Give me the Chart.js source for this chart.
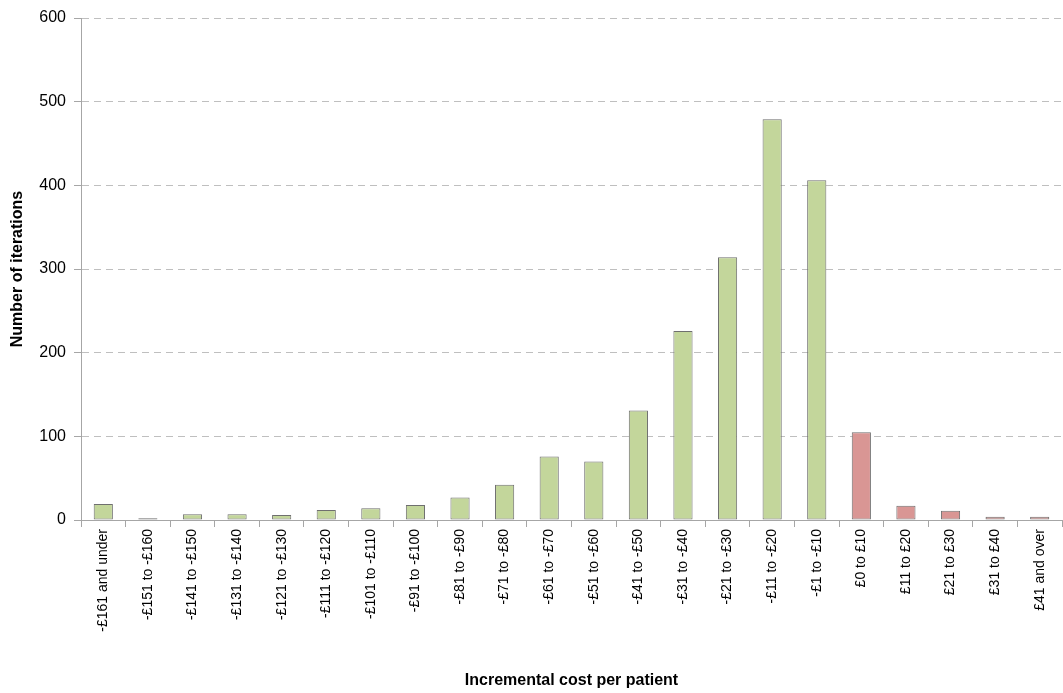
<!DOCTYPE html>
<html>
<head>
<meta charset="utf-8">
<script src="https://cdn.jsdelivr.net/npm/chart.js"></script>
<style>
  html, body { margin: 0; padding: 0; background: #fff; }
  #wrap { width: 1063px; height: 693px; }
</style>
</head>
<body>
<div id="wrap"><canvas id="costChart" width="1063" height="693"></canvas></div>
<script>
// categories along the x axis
const costBands = [
  '-£161 and under', '-£151 to -£160', '-£141 to -£150', '-£131 to -£140',
  '-£121 to -£130', '-£111 to -£120', '-£101 to -£110', '-£91 to -£100',
  '-£81 to -£90', '-£71 to -£80', '-£61 to -£70', '-£51 to -£60',
  '-£41 to -£50', '-£31 to -£40', '-£21 to -£30', '-£11 to -£20',
  '-£1 to -£10', '£0 to £10', '£11 to £20', '£21 to £30', '£31 to £40',
  '£41 and over'
];

// number of iterations per band
const iterations = [19, 2, 7, 7, 6, 12, 14, 18, 27, 42, 76, 70, 131, 226, 314, 479, 406, 105, 17, 11, 4, 4];

// y axis ticks
const yTicks = [0, 100, 200, 300, 400, 500, 600];

const savingColour = '#C3D69B';
const costColour = '#D99694';

// green for savings, red for extra cost
const barColours = costBands.map(b => b.startsWith('-') ? savingColour : costColour);

let costChart;

function initializeChart() {
    const ctx = document.getElementById('costChart').getContext('2d');

    costChart = new Chart(ctx, {
        type: 'bar',
        data: {
            labels: costBands,
            datasets: [{
                label: 'Iterations',
                data: iterations,
                backgroundColor: barColours,
                borderColor: '#6F6F6F',
                borderWidth: 1,
                borderSkipped: false,
                barPercentage: 0.43,
                categoryPercentage: 1.0
            }]
        },
        options: {
            responsive: false,
            animation: false,
            devicePixelRatio: 1,
            layout: { padding: { top: 18, right: 1, left: 0, bottom: 0 } },
            plugins: {
                legend: { display: false },
                tooltip: { enabled: false }
            },
            scales: {
                x: {
                    offset: true,
                    grid: {
                        offset: true,
                        drawOnChartArea: false,
                        drawTicks: true,
                        tickLength: 7,
                        color: '#A6A6A6'
                    },
                    border: { color: '#A6A6A6' },
                    ticks: {
                        minRotation: 90,
                        maxRotation: 90,
                        autoSkip: false,
                        color: '#000',
                        padding: 2,
                        font: { family: 'Liberation Sans', size: 14 }
                    },
                    title: {
                        display: true,
                        text: 'Incremental cost per patient',
                        color: '#000',
                        font: { family: 'Liberation Sans', size: 16, weight: 'bold' },
                        padding: { top: 4, bottom: 3 }
                    },
                    afterFit: (scale) => { scale.height = 173; }
                },
                y: {
                    min: 0,
                    max: 600,
                    afterBuildTicks: (scale) => { scale.ticks = yTicks.map(v => ({ value: v })); },
                    grid: {
                        color: '#BFBFBF',
                        tickLength: 7,
                        tickColor: '#A6A6A6',
                        tickBorderDash: []
                    },
                    border: { color: '#A6A6A6', dash: [7, 5] },
                    ticks: {
                        color: '#000',
                        padding: 8,
                        font: { family: 'Liberation Sans', size: 16 }
                    },
                    title: {
                        display: true,
                        text: 'Number of iterations',
                        color: '#000',
                        font: { family: 'Liberation Sans', size: 16, weight: 'bold' },
                        padding: { top: 8, bottom: 4 }
                    },
                    afterFit: (scale) => { scale.width = 81; }
                }
            }
        }
    });
}

document.addEventListener('DOMContentLoaded', () => {
    initializeChart();
});
</script>
</body>
</html>
